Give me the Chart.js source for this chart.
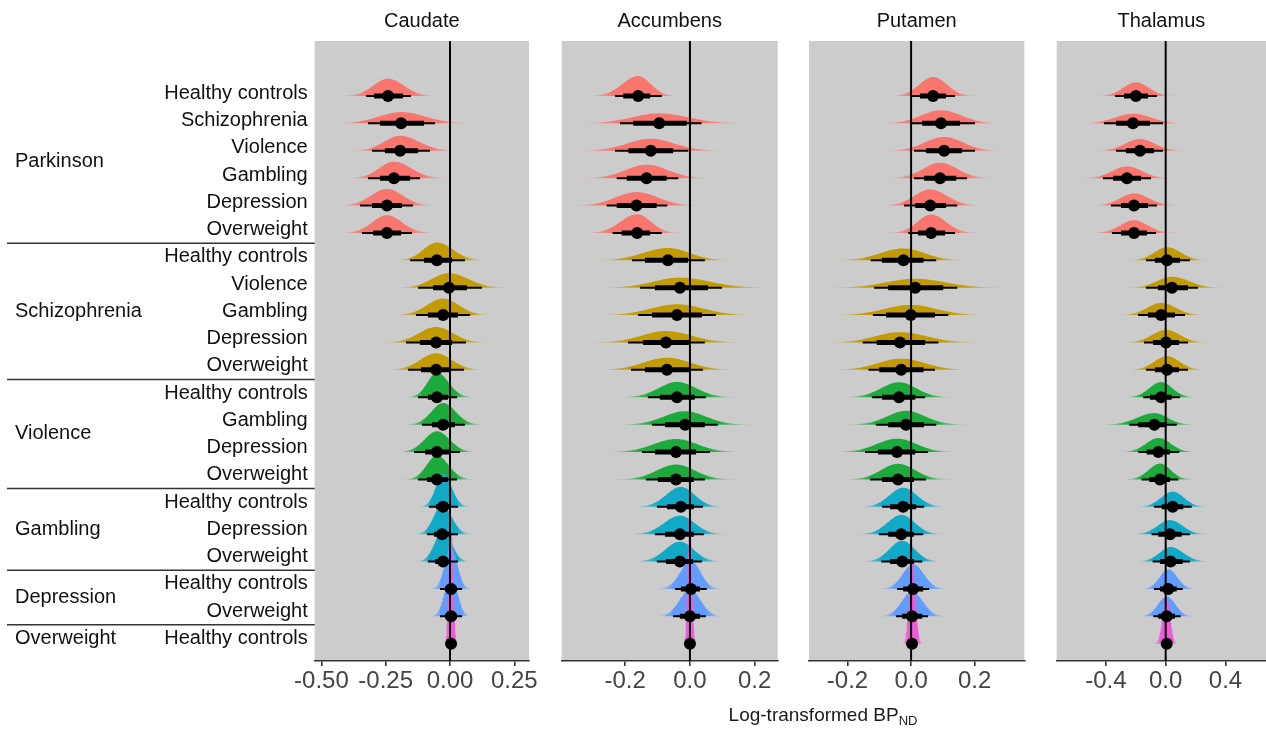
<!DOCTYPE html>
<html><head><meta charset="utf-8">
<script src="https://cdn.jsdelivr.net/npm/chart.js@4.4.0/dist/chart.umd.min.js"></script>
<style>
html,body{margin:0;padding:0;background:#fff;}
#wrap{position:relative;width:1266px;height:731px;overflow:hidden;}
#wrap canvas{position:absolute;left:0;top:0;}
#xtitle{position:absolute;left:823px;top:704px;transform:translateX(-50%);font:19px 'Liberation Sans',Arial,sans-serif;color:#1a1a1a;white-space:nowrap;}
#xtitle sub{font-size:13px;vertical-align:-4px;}
</style></head>
<body><div id="wrap">
<canvas id="c0" width="1300" height="731"></canvas>
<canvas id="c1" width="1300" height="731"></canvas>
<canvas id="c2" width="1300" height="731"></canvas>
<canvas id="c3" width="1300" height="731"></canvas>
<div id="xtitle">Log-transformed BP<sub>ND</sub></div>
</div>
<script>
// ---------------- data ----------------
const groups = ['Parkinson','Schizophrenia','Violence','Gambling','Depression','Overweight'];
const comparisons = ['Healthy controls','Schizophrenia','Violence','Gambling','Depression','Overweight',
  'Healthy controls','Violence','Gambling','Depression','Overweight',
  'Healthy controls','Gambling','Depression','Overweight',
  'Healthy controls','Depression','Overweight',
  'Healthy controls','Overweight',
  'Healthy controls'];
const rowGroup = [0,0,0,0,0,0,1,1,1,1,1,2,2,2,2,3,3,3,4,4,5];
const regions = ['Caudate','Accumbens','Putamen','Thalamus'];

const caudateMedian = [-0.241,-0.190,-0.194,-0.218,-0.245,-0.245,-0.051,-0.004,-0.027,-0.054,-0.054,-0.051,-0.027,-0.051,-0.051,-0.027,-0.031,-0.027,0.004,0.004,0.004];
const caudateInner = [[-0.295,-0.183],[-0.272,-0.101],[-0.253,-0.124],[-0.272,-0.155],[-0.303,-0.187],[-0.299,-0.190],[-0.101,0.008],[-0.066,0.066],[-0.086,0.031],[-0.117,0.008],[-0.113,0.004],[-0.086,-0.008],[-0.070,0.019],[-0.097,-0.004],[-0.089,-0.008],[-0.054,0.004],[-0.062,0.004],[-0.058,0.004],[-0.019,0.027],[-0.019,0.027],[-0.004,0.012]];
const caudateOuter = [[-0.326,-0.152],[-0.319,-0.058],[-0.303,-0.078],[-0.319,-0.117],[-0.350,-0.144],[-0.342,-0.148],[-0.155,0.058],[-0.124,0.124],[-0.132,0.078],[-0.171,0.062],[-0.163,0.054],[-0.124,0.027],[-0.109,0.058],[-0.140,0.039],[-0.124,0.027],[-0.082,0.031],[-0.089,0.031],[-0.086,0.031],[-0.039,0.047],[-0.039,0.047],[-0.012,0.019]];

const accumbensMedian = [-0.160,-0.095,-0.121,-0.134,-0.165,-0.163,-0.068,-0.031,-0.040,-0.074,-0.071,-0.040,-0.015,-0.043,-0.043,-0.028,-0.031,-0.031,0.003,0.000,0.000];
const accumbensInner = [[-0.206,-0.123],[-0.175,-0.010],[-0.190,-0.052],[-0.195,-0.072],[-0.226,-0.103],[-0.211,-0.123],[-0.139,-0.006],[-0.108,0.056],[-0.117,0.037],[-0.145,0.000],[-0.139,-0.003],[-0.093,0.015],[-0.077,0.046],[-0.108,0.019],[-0.099,0.012],[-0.071,0.012],[-0.077,0.012],[-0.074,0.009],[-0.028,0.031],[-0.031,0.031],[-0.006,0.006]];
const accumbensOuter = [[-0.231,-0.087],[-0.216,0.036],[-0.231,-0.005],[-0.226,-0.036],[-0.257,-0.070],[-0.239,-0.087],[-0.179,0.046],[-0.154,0.099],[-0.160,0.080],[-0.191,0.046],[-0.182,0.040],[-0.130,0.049],[-0.117,0.086],[-0.148,0.062],[-0.136,0.046],[-0.102,0.040],[-0.108,0.043],[-0.102,0.037],[-0.046,0.052],[-0.052,0.049],[-0.012,0.012]];

const putamenMedian = [0.069,0.094,0.104,0.091,0.060,0.063,-0.024,0.013,-0.001,-0.035,-0.031,-0.038,-0.016,-0.044,-0.041,-0.025,-0.031,-0.028,0.006,0.003,0.003];
const putamenInner = [[0.028,0.110],[0.035,0.154],[0.047,0.160],[0.041,0.142],[0.013,0.110],[0.022,0.107],[-0.092,0.039],[-0.072,0.101],[-0.079,0.075],[-0.108,0.044],[-0.100,0.039],[-0.091,0.013],[-0.072,0.041],[-0.104,0.013],[-0.091,0.009],[-0.066,0.016],[-0.072,0.009],[-0.066,0.009],[-0.025,0.038],[-0.028,0.035],[-0.006,0.013]];
const putamenOuter = [[0.003,0.138],[-0.003,0.201],[0.009,0.201],[0.009,0.176],[-0.022,0.145],[-0.009,0.138],[-0.127,0.079],[-0.116,0.145],[-0.120,0.117],[-0.152,0.086],[-0.134,0.075],[-0.123,0.044],[-0.110,0.079],[-0.145,0.053],[-0.129,0.047],[-0.091,0.041],[-0.101,0.038],[-0.094,0.035],[-0.044,0.057],[-0.047,0.053],[-0.013,0.019]];

const thalamusMedian = [-0.199,-0.219,-0.172,-0.259,-0.212,-0.212,0.009,0.042,-0.031,0.002,0.009,-0.031,-0.076,-0.049,-0.038,0.047,0.029,0.033,0.017,0.007,0.007];
const thalamusInner = [[-0.279,-0.118],[-0.332,-0.105],[-0.266,-0.078],[-0.352,-0.165],[-0.299,-0.118],[-0.299,-0.125],[-0.072,0.096],[-0.052,0.149],[-0.118,0.062],[-0.085,0.089],[-0.072,0.089],[-0.105,0.040],[-0.183,0.007],[-0.127,0.029],[-0.110,0.029],[-0.027,0.118],[-0.049,0.107],[-0.038,0.114],[-0.038,0.074],[-0.049,0.062],[-0.018,0.029]];
const thalamusOuter = [[-0.339,-0.058],[-0.413,-0.018],[-0.332,-0.018],[-0.419,-0.098],[-0.366,-0.058],[-0.359,-0.065],[-0.132,0.163],[-0.132,0.216],[-0.185,0.129],[-0.145,0.149],[-0.132,0.149],[-0.150,0.096],[-0.243,0.074],[-0.183,0.091],[-0.161,0.084],[-0.078,0.174],[-0.094,0.163],[-0.087,0.163],[-0.078,0.114],[-0.083,0.100],[-0.031,0.042]];

const caudateTicks = [-0.5,-0.25,0,0.25];
const accumbensTicks = [-0.2,0,0.2];
const putamenTicks = [-0.2,0,0.2];
const thalamusTicks = [-0.4,0,0.4];

// ---------------- style / layout ----------------
const FONT = "'Liberation Sans', Arial, Helvetica, sans-serif";
const groupColors = ['#F8766D','#C29B00','#1DAA3C','#10A9C6','#619CFF','#EE5AD8'];
const panels = [
  {name:regions[0], med:caudateMedian, inner:caudateInner, outer:caudateOuter, ticks:caudateTicks, dec:2, min:-0.526, max:0.307, left:314.7, right:529, S:0.0927},
  {name:regions[1], med:accumbensMedian, inner:accumbensInner, outer:accumbensOuter, ticks:accumbensTicks, dec:1, min:-0.396, max:0.271, left:561.7, right:777.7, S:0.0793},
  {name:regions[2], med:putamenMedian, inner:putamenInner, outer:putamenOuter, ticks:putamenTicks, dec:1, min:-0.321, max:0.356, left:809, right:1024.3, S:0.075},
  {name:regions[3], med:thalamusMedian, inner:thalamusInner, outer:thalamusOuter, ticks:thalamusTicks, dec:1, min:-0.729, max:0.671, left:1056.7, right:1266, S:0.1056}
];
// row axis (marks) and label axis (text column) ranges
const Y_MIN = -2.007, Y_MAX = 20.63;
const YL_MIN = -1.918, YL_MAX = 20.83;
const CW = 1300, TOP = 41, XAXIS_H = 70;

function hexA(hex, a) {
  const r = parseInt(hex.slice(1,3),16), g = parseInt(hex.slice(3,5),16), b = parseInt(hex.slice(5,7),16);
  return `rgba(${r},${g},${b},${a})`;
}
const SQ2PI = Math.sqrt(2*Math.PI);
const ZMAX = 3.6;
function slabData(m, inner, row, S) {
  const sdL = Math.max((m - inner[0]) / 0.954, 1e-4);
  const sdR = Math.max((inner[1] - m) / 0.954, 1e-4);
  const norm = 2 / (SQ2PI * (sdL + sdR));
  const pts = [];
  const N = 60;
  for (let k = -N; k <= N; k++) {
    const z = ZMAX * k / N;
    const x = m + z * (z < 0 ? sdL : sdR);
    pts.push({x, y: row - S * norm * Math.exp(-z*z/2)});
  }
  return {pts, sdL, sdR};
}

const bgPlugin = {
  id: 'panelBg',
  beforeDraw(chart) {
    const {ctx, chartArea: a} = chart;
    ctx.save(); ctx.fillStyle = '#CCCCCC';
    ctx.fillRect(a.left, a.top, a.right - a.left, a.bottom - a.top);
    ctx.restore();
  },
  afterDraw(chart, args, opts) {
    const {ctx, chartArea: a} = chart;
    ctx.save();
    ctx.fillStyle = '#111'; ctx.font = `20px ${FONT}`;
    ctx.textAlign = 'center'; ctx.textBaseline = 'middle';
    ctx.fillText(opts.title, (a.left + a.right) / 2, 21);
    if (opts.groupLabels) {
      const ys = chart.scales.yl;
      ctx.textAlign = 'left';
      groups.forEach((g, gi) => {
        const idx = rowGroup.map((v, i) => v === gi ? i : -1).filter(i => i >= 0);
        const mid = (idx[0] + idx[idx.length - 1]) / 2;
        ctx.fillStyle = '#111';
        ctx.fillText(g, 15, ys.getPixelForValue(mid));
        if (gi < groups.length - 1) {
          const yy = ys.getPixelForValue(idx[idx.length - 1] + 0.5);
          ctx.strokeStyle = '#333'; ctx.lineWidth = 1.6;
          ctx.beginPath(); ctx.moveTo(7, yy); ctx.lineTo(a.left, yy); ctx.stroke();
        }
      });
    }
    ctx.restore();
  }
};

panels.forEach((p, pi) => {
  const datasets = [];
  datasets.push({ type:'line', data: p.med.map((m, i) => ({x:m, y:i})), showLine:false,
    pointRadius:6, pointBackgroundColor:'#000', pointBorderColor:'#000', pointBorderWidth:0, order:0 });
  const thick = [], thin = [];
  p.inner.forEach((iv, i) => { thick.push({x:iv[0], y:i}, {x:iv[1], y:i}, {x:null, y:null}); });
  p.outer.forEach((iv, i) => { thin.push({x:iv[0], y:i}, {x:iv[1], y:i}, {x:null, y:null}); });
  datasets.push({ type:'line', data: thick, borderColor:'#000', borderWidth:5, borderCapStyle:'butt', pointRadius:0, spanGaps:false, order:1 });
  datasets.push({ type:'line', data: thin, borderColor:'#000', borderWidth:2, borderCapStyle:'butt', pointRadius:0, spanGaps:false, order:2 });
  datasets.push({ type:'line', data: [{x:0, y:Y_MIN}, {x:0, y:Y_MAX}], borderColor:'#000', borderWidth:2, pointRadius:0, order:3 });
  p.med.forEach((m, i) => {
    const {pts, sdL, sdR} = slabData(m, p.inner[i], i, p.S);
    const col = groupColors[rowGroup[i]];
    datasets.push({ type:'line', data: pts, borderColor:'rgba(0,0,0,0)', borderWidth:1, pointRadius:0, tension:0,
      fill: {value: i}, order: 4 + (comparisons.length - i),
      backgroundColor: (ctx) => {
        const ch = ctx.chart; const xs = ch.scales.x;
        if (!xs || !ch.chartArea) return col;
        const x0 = xs.getPixelForValue(m - ZMAX * sdL), x1 = xs.getPixelForValue(m + ZMAX * sdR);
        const xm = xs.getPixelForValue(m);
        if (!isFinite(x0) || !isFinite(x1) || x1 - x0 < 1) return col;
        const g = ch.ctx.createLinearGradient(x0, 0, x1, 0);
        const f = (px) => Math.min(1, Math.max(0, (px - x0) / (x1 - x0)));
        const at = (z) => z < 0 ? f(xm + (z / ZMAX) * (xm - x0)) : f(xm + (z / ZMAX) * (x1 - xm));
        g.addColorStop(0, hexA(col, 0));
        g.addColorStop(at(-2.6), hexA(col, 0.45));
        g.addColorStop(at(-1.6), hexA(col, 1));
        g.addColorStop(at(1.6), hexA(col, 1));
        g.addColorStop(at(2.6), hexA(col, 0.45));
        g.addColorStop(1, hexA(col, 0));
        return g;
      } });
  });

  const scales = {
    x: { type:'linear', min:p.min, max:p.max,
      afterBuildTicks: (s) => { s.ticks = p.ticks.map(v => ({value:v})); },
      afterFit: (s) => { s.height = XAXIS_H; },
      grid: { display:true, drawOnChartArea:false, drawTicks:true, tickLength:5, color:'#333', lineWidth:1.6 },
      border: { display:true, color:'#333', width:1.6 },
      ticks: { color:'#444', font:{size:24, family:FONT}, padding:1, maxRotation:0, autoSkip:false,
        callback: (v) => Number(v).toFixed(p.dec) } },
    y: { type:'linear', reverse:true, min:Y_MIN, max:Y_MAX, display:false,
      afterFit: (s) => { s.width = 0; } }
  };
  if (pi === 0) {
    scales.yl = { type:'linear', position:'left', reverse:true, min:YL_MIN, max:YL_MAX, display:true,
      afterBuildTicks: (s) => { s.ticks = comparisons.map((_, i) => ({value:i})); },
      afterFit: (s) => { s.width = p.left; },
      grid: { display:false, drawTicks:false }, border: { display:false },
      ticks: { color:'#111', font:{size:20, family:FONT}, padding:7, autoSkip:false,
        callback: (v) => comparisons[v] } };
  }

  new Chart(document.getElementById('c' + pi), {
    type: 'line',
    data: { datasets },
    plugins: [bgPlugin],
    options: {
      responsive: false, animation: false, devicePixelRatio: 1, events: [],
      layout: { padding: { left: pi === 0 ? 0 : p.left, right: CW - p.right, top: TOP, bottom: 0 } },
      plugins: { legend: {display:false}, tooltip: {enabled:false}, panelBg: { title: p.name, groupLabels: pi === 0 } },
      scales
    }
  });
});
</script>
</body></html>
